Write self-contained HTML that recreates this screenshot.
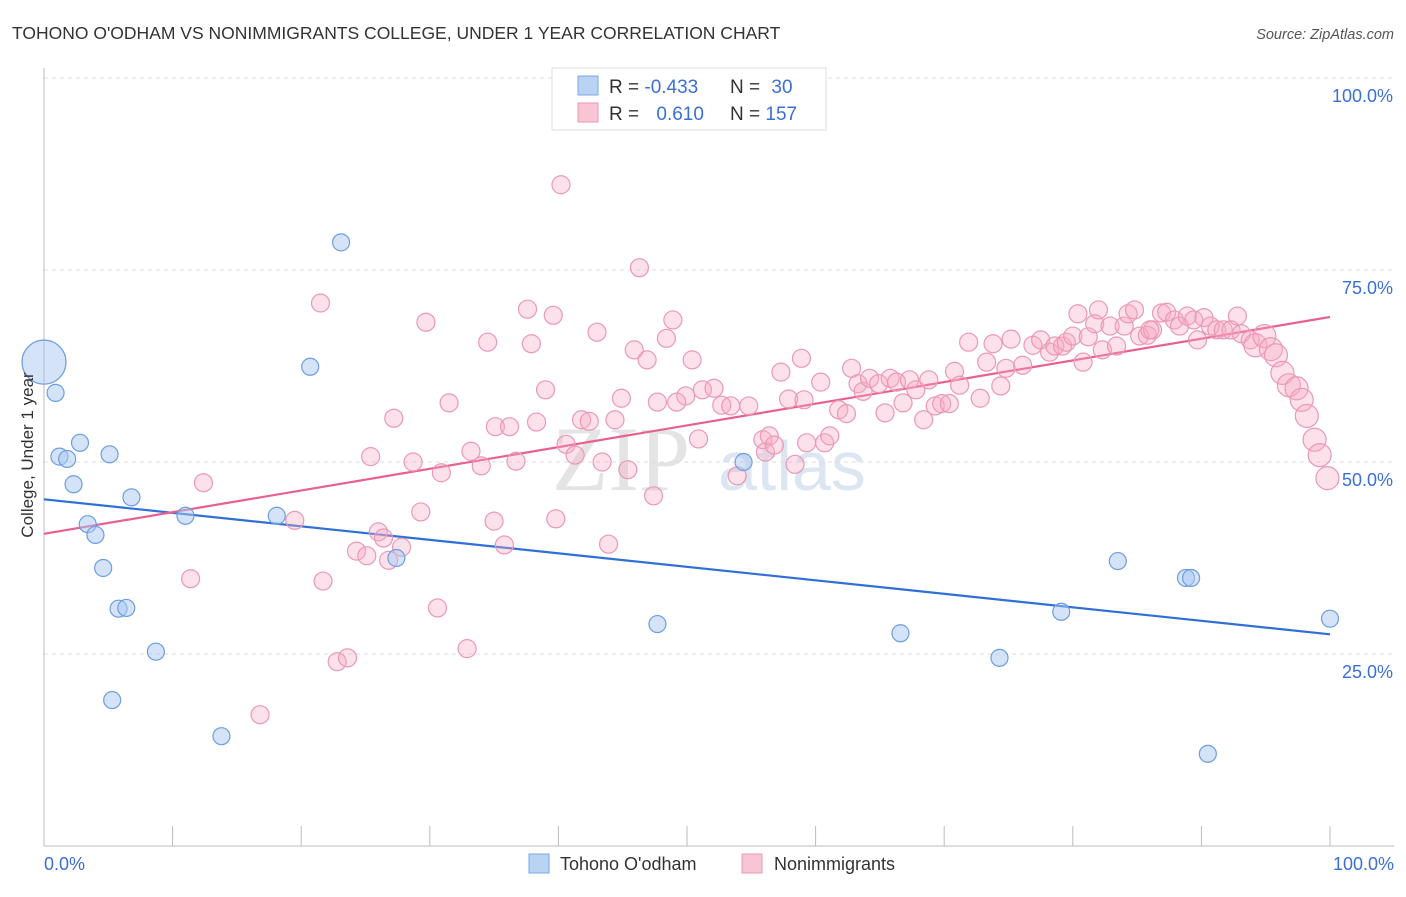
<!DOCTYPE html>
<html><head><meta charset="utf-8"><style>
body{margin:0;background:#fff;font-family:"Liberation Sans",sans-serif}
</style></head><body>
<svg id="chart" width="1406" height="892" xmlns="http://www.w3.org/2000/svg" font-family="Liberation Sans, sans-serif">
<text x="12" y="39" font-size="17.5" fill="#333">TOHONO O'ODHAM VS NONIMMIGRANTS COLLEGE, UNDER 1 YEAR CORRELATION CHART</text>
<text x="1394" y="39" font-size="14.5" fill="#555" font-style="italic" text-anchor="end">Source: ZipAtlas.com</text>
<text x="690" y="490" font-size="92" fill="#e4e4e4" text-anchor="end" font-family="Liberation Serif, serif">ZIP</text>
<text x="718" y="490" font-size="70" fill="#dce6f3">atlas</text>
<g id="grid"></g><g id="axes"></g><g id="lines"></g><g id="pts"></g>
<text transform="translate(33,455) rotate(-90)" font-size="17" fill="#333" text-anchor="middle">College, Under 1 year</text>
<g>
<rect x="552" y="68" width="274" height="62" fill="#fff" stroke="#ddd"/>
<rect x="578" y="76" width="20" height="19" fill="#b9d3f5" stroke="#7aa7e6"/>
<rect x="578" y="103" width="20" height="19" fill="#f8c5d5" stroke="#eb98b4"/>
<text x="609" y="93" font-size="19" fill="#333">R = <tspan fill="#3a6fd8">-0.433</tspan></text>
<text x="730" y="93" font-size="19" fill="#333">N = <tspan fill="#3a6fd8" dx="6">30</tspan></text>
<text x="609" y="120" font-size="19" fill="#333">R = <tspan fill="#3a6fd8" dx="12">0.610</tspan></text>
<text x="730" y="120" font-size="19" fill="#333">N = <tspan fill="#3a6fd8">157</tspan></text>
</g>
<g>
<rect x="529" y="854" width="20" height="19" fill="#b9d3f5" stroke="#7aa7e6"/>
<text x="560" y="870" font-size="18" fill="#333">Tohono O'odham</text>
<rect x="742" y="854" width="20" height="19" fill="#f8c5d5" stroke="#eb98b4"/>
<text x="774" y="870" font-size="18" fill="#333">Nonimmigrants</text>
</g>
</svg>
<script>
const xTicks=[0,10,20,30,40,50,60,70,80,90,100];
const yTicks=[25,50,75,100];
const yTickLabels=["25.0%","50.0%","75.0%","100.0%"];
const blueX=[0,0.9,1.2,1.8,2.3,2.8,3.4,4.0,4.6,5.1,5.8,6.4,6.8,8.7,5.3,11.0,13.8,18.1,20.7,23.1,27.4,47.7,54.4,66.6,74.3,79.1,83.5,88.8,89.2,90.5,100];
const blueY=[63.0,59.0,50.7,50.4,47.1,52.5,41.9,40.5,36.2,51.0,30.9,31.0,45.4,25.3,19.0,43.0,14.3,43.0,62.4,78.6,37.5,28.9,50.0,27.7,24.5,30.5,37.1,34.9,34.9,12.0,29.6];
const pinkX=[40.2,46.3,21.5,37.6,39.6,29.7,48.9,34.5,37.9,43.0,48.4,45.9,46.9,50.4,39.0,31.5,27.2,44.9,49.9,47.7,49.2,35.1,36.2,38.3,41.8,42.4,44.4,40.6,33.2,25.4,28.7,34.0,36.7,41.3,43.4,45.4,30.9,50.9,12.4,47.4,19.5,35.0,39.8,29.3,26.0,26.4,24.3,25.1,26.8,27.8,35.8,43.9,11.4,21.7,30.6,32.9,22.8,23.6,16.8,51.2,52.1,52.7,53.4,54.8,55.9,56.4,56.1,56.8,53.9,58.4,59.3,60.7,61.1,57.3,58.9,57.9,59.1,60.4,61.8,62.4,62.8,63.3,63.7,64.2,64.9,65.4,65.8,66.3,66.8,67.3,67.8,68.4,68.8,69.3,69.8,70.4,70.8,71.2,71.9,72.8,73.3,73.8,74.4,74.8,75.2,76.1,76.9,77.5,78.2,78.6,79.2,79.5,80.0,80.4,80.8,81.2,81.7,82.3,82.9,83.4,84.0,84.3,84.8,85.2,85.8,86.2,86.9,87.3,87.9,88.3,88.9,89.4,89.7,90.2,90.7,91.2,91.7,92.3,92.8,93.1,93.8,94.2,94.9,95.4,95.8,96.3,96.8,97.4,97.8,98.2,98.8,99.2,99.8,82.0,86.0];
const pinkY=[86.1,75.3,70.7,69.9,69.1,68.2,68.5,65.6,65.4,66.9,66.1,64.6,63.3,63.3,59.4,57.7,55.7,58.3,58.6,57.8,57.8,54.6,54.6,55.2,55.5,55.3,55.5,52.3,51.4,50.7,50.0,49.5,50.1,50.9,50.0,49.0,48.6,53.0,47.3,45.6,42.4,42.3,42.6,43.5,40.9,40.1,38.4,37.8,37.2,38.9,39.2,39.3,34.8,34.5,31.0,25.7,24.0,24.5,17.1,59.4,59.6,57.4,57.3,57.3,52.9,53.4,51.3,52.2,48.2,49.7,52.5,52.5,53.4,61.7,63.5,58.2,58.1,60.4,56.8,56.3,62.2,60.2,59.2,60.9,60.2,56.4,60.9,60.4,57.7,60.7,59.4,55.5,60.7,57.3,57.6,57.6,61.8,60.0,65.6,58.3,63.0,65.4,59.9,62.2,66.0,62.6,65.2,65.9,64.3,65.1,65.1,65.6,66.4,69.3,63.0,66.3,68.0,64.6,67.7,65.1,67.7,69.3,69.8,66.4,66.5,67.2,69.4,69.5,68.5,67.7,69.0,68.5,65.9,68.8,67.7,67.2,67.2,67.2,69.0,66.7,65.9,65.2,66.4,64.7,63.9,61.6,60.0,59.6,58.1,56.0,52.9,50.9,47.9,69.8,67.2];
const NS="http://www.w3.org/2000/svg";
const X0=44,X1=1330,YB=846,PPU=7.68;
const sx=v=>X0+(X1-X0)*v/100, sy=v=>YB-PPU*v;
function mk(tag,attrs,parent){const e=document.createElementNS(NS,tag);for(const k in attrs)e.setAttribute(k,attrs[k]);document.getElementById(parent).appendChild(e);return e;}
yTicks.forEach((t,i)=>{
 const g=mk('line',{x1:X0,x2:1394,y1:sy(t),y2:sy(t),stroke:'#ddd','stroke-dasharray':'4,4'},'grid');
 
 
 const l=mk('text',{x:1393,y:sy(t)+24,'font-size':18,fill:'#3a6fd8','text-anchor':'end'},'axes');
 l.textContent=yTickLabels[i];
 
 
});
const ax=mk('line',{x1:X0,x2:1394,y1:YB,y2:YB,stroke:'#bbb'},'axes');


const ay=mk('line',{x1:X0,x2:X0,y1:68,y2:YB,stroke:'#bbb'},'axes');


xTicks.forEach(t=>{const k=mk('line',{x1:sx(t),x2:sx(t),y1:826,y2:YB,stroke:'#bbb'},'axes');
 
 });
[[0,'0.0%','start',44],[100,'100.0%','end',1394]].forEach(a=>{const t=mk('text',{x:a[3],y:870,'font-size':18,fill:'#3a6fd8','text-anchor':a[2]},'axes');t.textContent=a[1];
 
 });
function fit(xs,ys){const n=xs.length;let mx=0,my=0;xs.forEach((v,i)=>{mx+=v;my+=ys[i]});mx/=n;my/=n;let sxy=0,sxx=0;xs.forEach((v,i)=>{sxy+=(v-mx)*(ys[i]-my);sxx+=(v-mx)*(v-mx)});const b=sxy/sxx;return [my-b*mx,b];}
function trend(xs,ys,col,name){const [a,b]=fit(xs,ys);const l=mk('line',{x1:sx(0),y1:sy(a),x2:sx(100),y2:sy(a+100*b),stroke:col,'stroke-width':2.2},'lines');
 
 }
pinkX.forEach((v,i)=>{const c=mk('circle',{cx:sx(v),cy:sy(pinkY[i]),r:v>94?11.5:9,fill:'rgba(246,170,196,0.35)',stroke:'#eb98b4','stroke-width':1.2},'pts');
 
 });
blueX.forEach((v,i)=>{const c=mk('circle',{cx:sx(v),cy:sy(blueY[i]),r:i==0?22:8.5,fill:'rgba(170,200,242,0.5)',stroke:'#6d9ee0','stroke-width':1.2},'pts');
 
 });
trend(blueX,blueY,'#2f6fd6','tohono-trend-line');
trend(pinkX,pinkY,'#e8608e','nonimmigrants-trend-line');
</script>
</body></html>
